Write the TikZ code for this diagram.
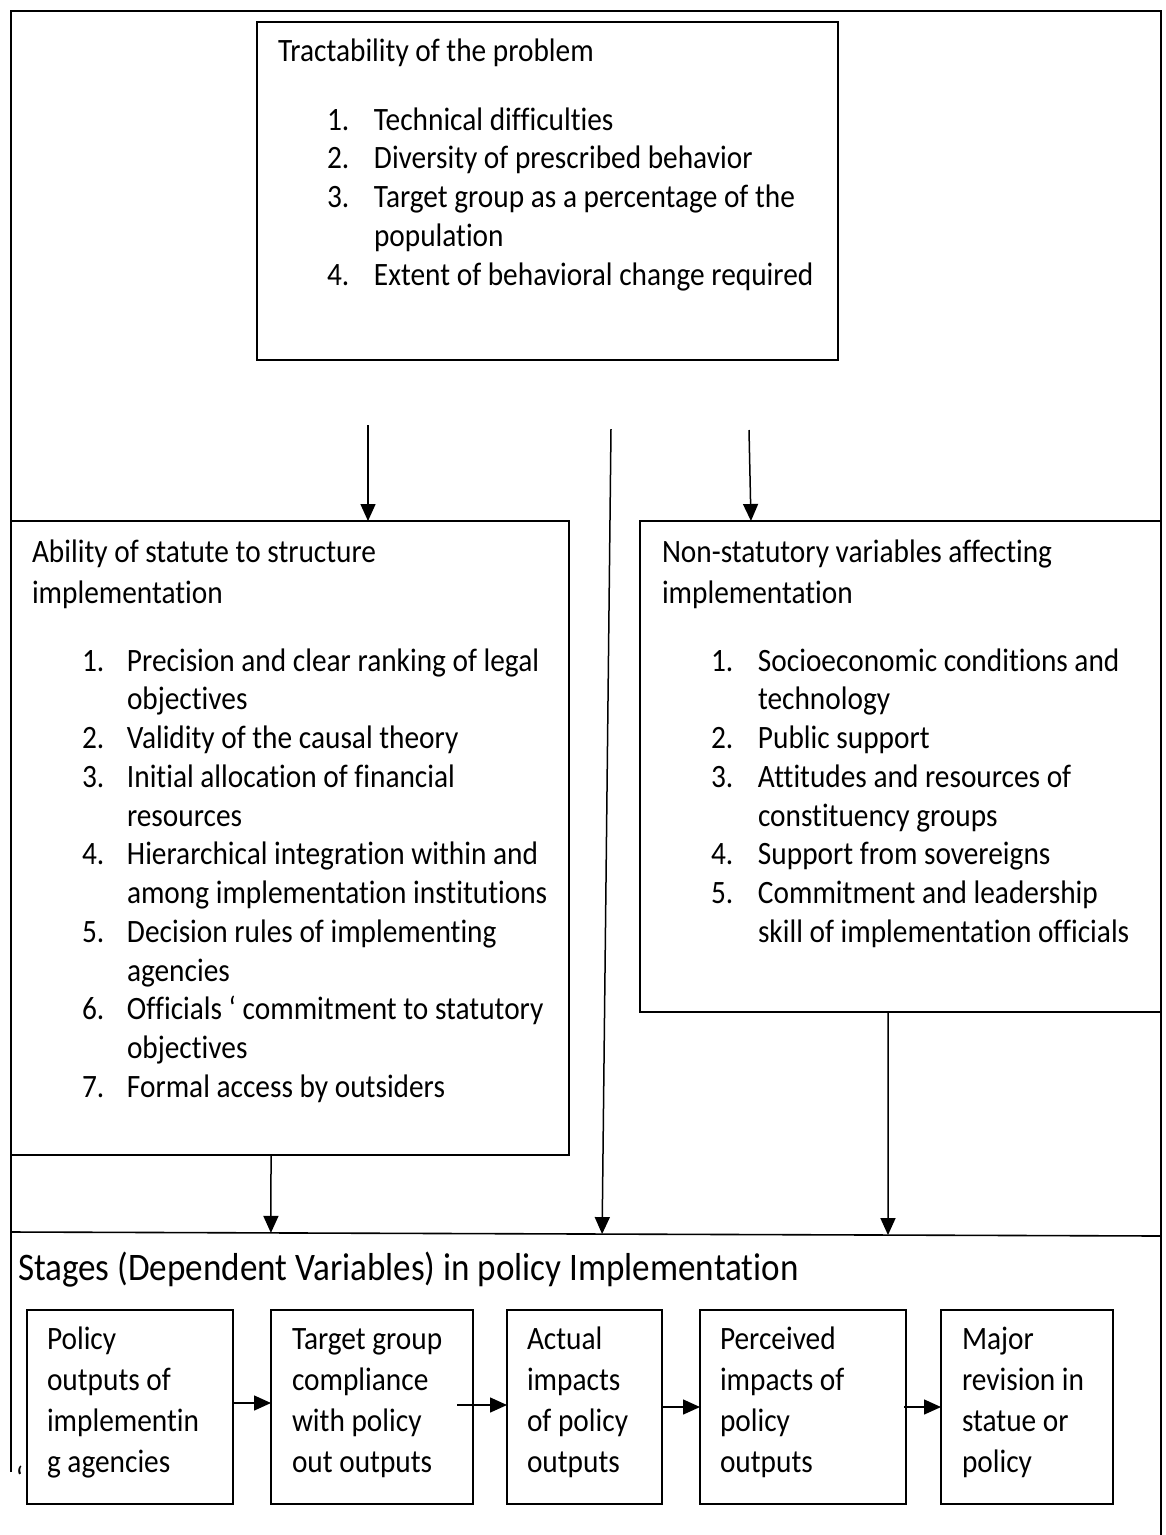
\documentclass[tikz,border=0pt]{standalone}
\usepackage{fontspec}
\setmainfont[FakeStretch=0.9, Ligatures={TeX,NoCommon}]{Carlito}
\usetikzlibrary{arrows.meta,calc}

\begin{document}
\begin{tikzpicture}[x=1pt,y=-1pt,
  box/.style={draw, line width=1.5pt, rectangle, inner sep=0pt, outer sep=0pt, anchor=north west},
  txt/.style={inner sep=0pt, outer sep=0pt, anchor=base west, font=\fontsize{32.6}{38.75}\selectfont},
  titletxt/.style={txt, font=\fontsize{32.6}{41}\selectfont},
  stagetxt/.style={txt, font=\fontsize{32.6}{41}\selectfont},
  headtxt/.style={txt, font=\fontsize{39}{47}\selectfont},
  arr/.style={line width=1.5pt, -{Triangle[length=17pt,width=15pt]}},
]
\useasboundingbox (0,0) rectangle (1166,1535);

% outer frame (open at the bottom)
\draw[line width=1.8pt] (11,1472) -- (11,11) -- (1161,11) -- (1161,1535);

% three factor boxes
\node[box, minimum width=581pt, minimum height=338pt] (tract) at (257,22) {};
\node[box, minimum width=558pt, minimum height=634pt] (statute) at (11,521) {};
\node[box, minimum width=521pt, minimum height=491pt] (nonstat) at (640,521) {};

\node[txt] (tracttitle) at (278,61) {Tractability of the problem};
\node[txt] (tractlist) at (327,130) {\begin{tabular}[t]{@{}p{47pt}@{}l@{}}
1. & Technical difficulties\\
2. & Diversity of prescribed behavior\\
3. & Target group as a percentage of the\\
   & population\\
4. & Extent of behavioral change required
\end{tabular}};

\node[titletxt] (statutetitle) at (32,562) {\begin{tabular}[t]{@{}l@{}}
Ability of statute to structure\\ implementation\end{tabular}};
\node[txt] (statutelist) at (82,671) {\begin{tabular}[t]{@{}p{45pt}@{}l@{}}
1. & Precision and clear ranking of legal\\
   & objectives\\
2. & Validity of the causal theory\\
3. & Initial allocation of financial\\
   & resources\\
4. & Hierarchical integration within and\\
   & among implementation institutions\\
5. & Decision rules of implementing\\
   & agencies\\
6. & Officials ‘ commitment to statutory\\
   & objectives\\
7. & Formal access by outsiders
\end{tabular}};

\node[titletxt] (nonstattitle) at (662,562) {\begin{tabular}[t]{@{}l@{}}
Non-statutory variables affecting\\ implementation\end{tabular}};
\node[txt] (nonstatlist) at (711,671) {\begin{tabular}[t]{@{}p{47pt}@{}l@{}}
1. & Socioeconomic conditions and\\
   & technology\\
2. & Public support\\
3. & Attitudes and resources of\\
   & constituency groups\\
4. & Support from sovereigns\\
5. & Commitment and leadership\\
   & skill of implementation officials
\end{tabular}};

% arrows into the two lower factor boxes
\coordinate (a1) at (368,425);
\draw[arr] (a1) -- (a1 |- statute.north);
\coordinate (a2) at (749,430);
\draw[arr] (a2) -- ($(nonstat.north west)!0.213!(nonstat.north east)$);

% divider above the stages panel
\coordinate (dl) at (11,1232);
\coordinate (dr) at (1161,1236);
\draw[line width=1.6pt] (dl) -- (dr);

% connectors into the stages panel
\coordinate (c0) at (611,429);
\draw[arr] (c0) -- ($(dl)!0.514!(dr)$);
\draw[arr] ($(statute.south west)!0.466!(statute.south east)$) -- ($(dl)!0.226!(dr)$);
\draw[arr] ($(nonstat.south west)!0.476!(nonstat.south east)$) -- ($(dl)!0.7626!(dr)$);

% stages panel
\node[headtxt] (stagestitle) at (18,1280) {Stages (Dependent Variables) in policy Implementation};
\node[txt] (tick) at (16,1489) {\symbol{96}};

\node[box, minimum width=206pt, minimum height=194pt] (s1) at (27,1310) {};
\node[box, minimum width=202pt, minimum height=194pt] (s2) at (271,1310) {};
\node[box, minimum width=155pt, minimum height=194pt] (s3) at (507,1310) {};
\node[box, minimum width=206pt, minimum height=194pt] (s4) at (700,1310) {};
\node[box, minimum width=172pt, minimum height=194pt] (s5) at (941,1310) {};

\node[stagetxt] (s1t) at (47,1349) {\begin{tabular}[t]{@{}l@{}}Policy\\ outputs of\\ implementin\\ g agencies\end{tabular}};
\node[stagetxt] (s2t) at (292,1349) {\begin{tabular}[t]{@{}l@{}}Target group\\ compliance\\ with policy\\ out outputs\end{tabular}};
\node[stagetxt] (s3t) at (527,1349) {\begin{tabular}[t]{@{}l@{}}Actual\\ impacts\\ of policy\\ outputs\end{tabular}};
\node[stagetxt] (s4t) at (720,1349) {\begin{tabular}[t]{@{}l@{}}Perceived\\ impacts of\\ policy\\ outputs\end{tabular}};
\node[stagetxt] (s5t) at (962,1349) {\begin{tabular}[t]{@{}l@{}}Major\\ revision in\\ statue or\\ policy\end{tabular}};

\draw[arr] ($(s1.east)+(0,-4)$) -- ($(s2.west)+(0,-4)$);
\draw[arr] ($(s2.east)+(-16,-2)$) -- ($(s3.west)+(0,-2)$);
\draw[arr] (s3.east) -- (s4.west);
\draw[arr] ($(s4.east)+(-2,0)$) -- (s5.west);
\end{tikzpicture}
\end{document}
